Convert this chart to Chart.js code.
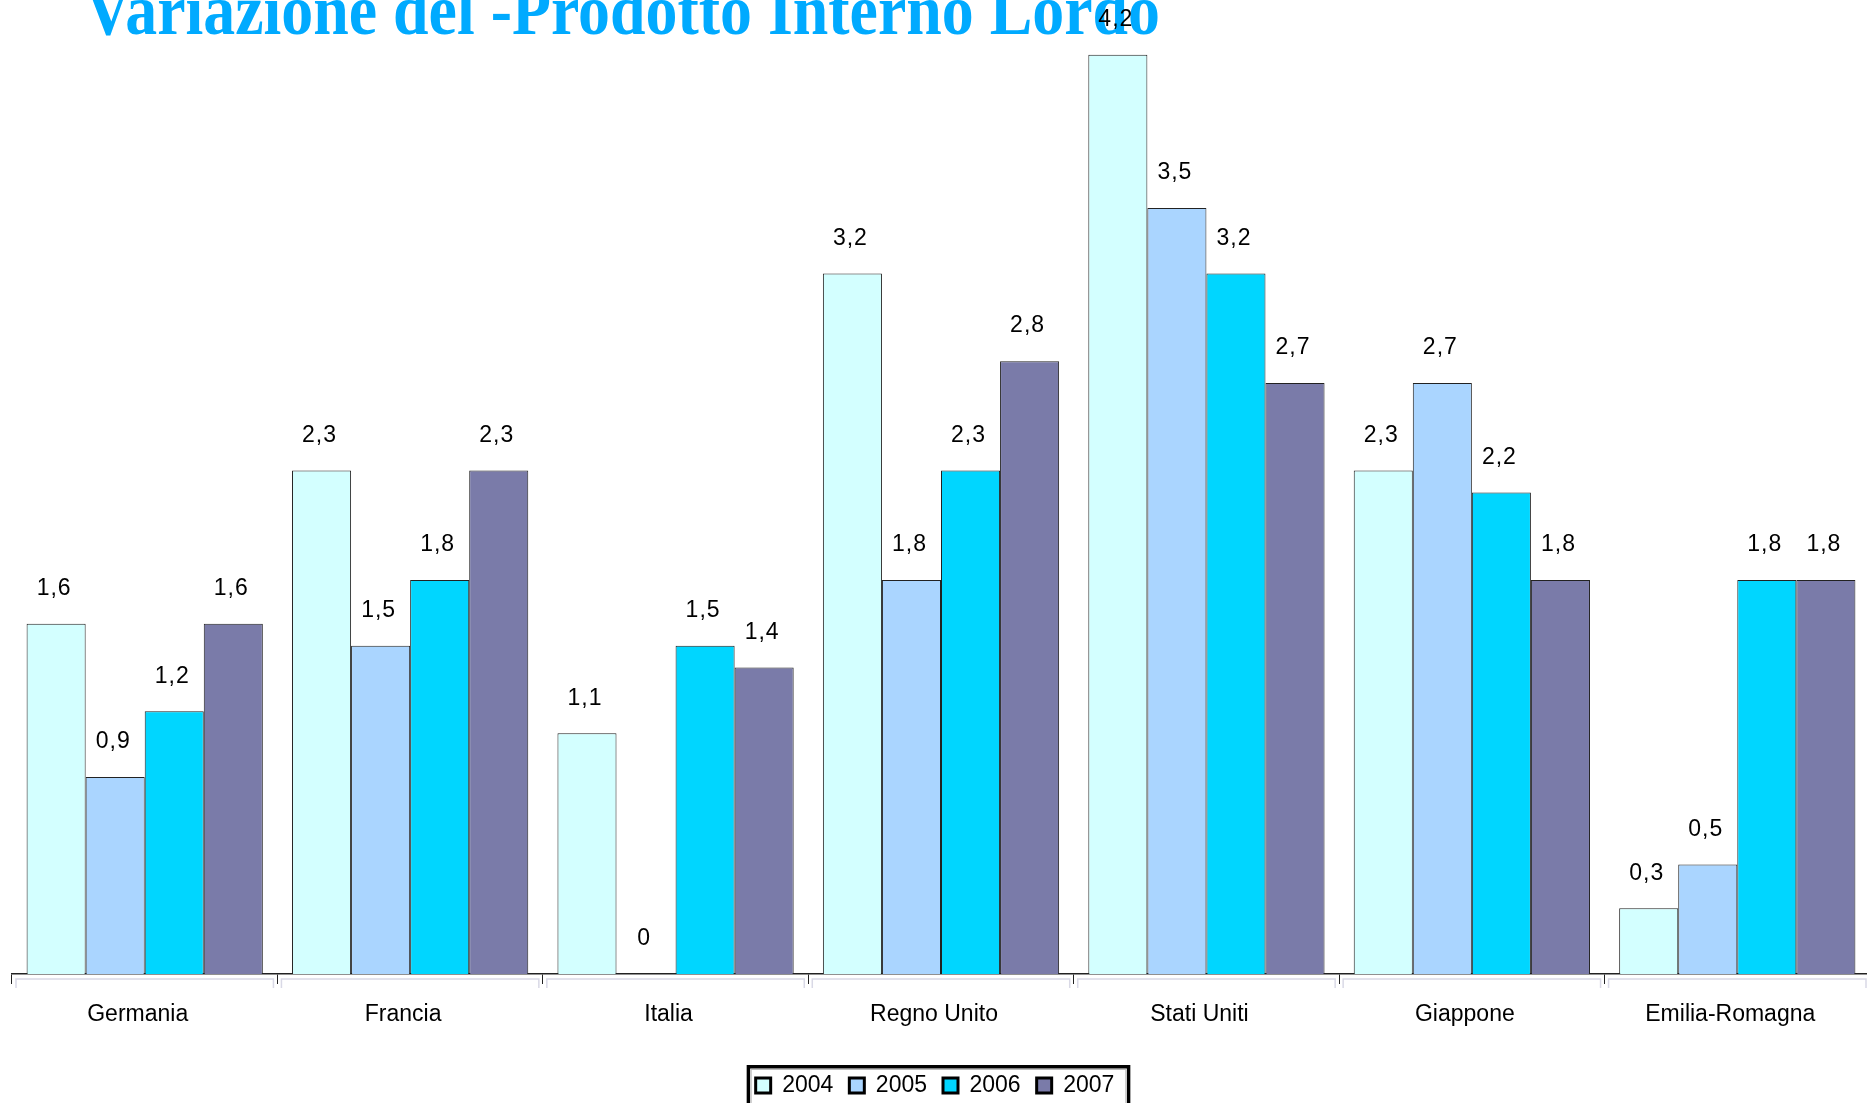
<!DOCTYPE html>
<html>
<head>
<meta charset="utf-8">
<script src="https://cdn.jsdelivr.net/npm/chart.js@4"></script>
<style>
  html, body { margin: 0; padding: 0; background: #fff; overflow: hidden; width: 1867px; height: 1103px; }
  #wrap { position: absolute; left: 0; top: 0; width: 1870px; height: 1107px; }
  #title {
    position: absolute; left: 85px; top: -26px; margin: 0;
    font: bold 72px "Liberation Serif", "Times New Roman", serif;
    line-height: 72px; color: #00AAFF; white-space: nowrap;
    transform-origin: 0 0; transform: scale(0.887, 1); z-index: 0;
  }
  canvas { position: absolute; left: 0; top: 0; z-index: 1; }
</style>
</head>
<body>
<div id="wrap">
  <div id="title">Variazione del -Prodotto Interno Lordo</div>
  <canvas id="c" width="1870" height="1107"></canvas>
</div>
<script>
// ---- data ----
const categories = ["Germania", "Francia", "Italia", "Regno Unito", "Stati Uniti", "Giappone", "Emilia-Romagna"];
const seriesNames = ["2004", "2005", "2006", "2007"];
const values2004 = [1.6, 2.3, 1.1, 3.2, 4.2, 2.3, 0.3];
const values2005 = [0.9, 1.5, 0, 1.8, 3.5, 2.7, 0.5];
const values2006 = [1.2, 1.8, 1.5, 2.3, 3.2, 2.2, 1.8];
const values2007 = [1.6, 2.3, 1.4, 2.8, 2.7, 1.8, 1.8];
const seriesColors = ["#D3FFFF", "#AAD5FF", "#00D6FF", "#7A7BA9"];

const FONT = '"Liberation Sans", Arial, sans-serif';
const fmt = v => String(v).replace('.', ',');

const valueLabels = {
  id: 'valueLabels',
  afterDatasetsDraw(chart) {
    const ctx = chart.ctx;
    ctx.save();
    ctx.font = '23px ' + FONT;
    if ('letterSpacing' in ctx) ctx.letterSpacing = '1px';
    ctx.fillStyle = '#000';
    ctx.textAlign = 'center';
    ctx.textBaseline = 'middle';
    chart.data.datasets.forEach((ds, i) => {
      chart.getDatasetMeta(i).data.forEach((bar, j) => {
        ctx.fillText(fmt(ds.data[j]), bar.x - 2, bar.y - 35);
      });
    });
    ctx.restore();
  }
};

const axisBrackets = {
  id: 'axisBrackets',
  afterDraw(chart) {
    const ctx = chart.ctx, xs = chart.scales.x, a = chart.chartArea;
    const n = chart.data.labels.length;
    const w = (a.right - a.left) / n;
    ctx.save();
    ctx.strokeStyle = '#D9D9E6';
    ctx.lineWidth = 1.5;
    for (let i = 0; i < n; i++) {
      const c = xs.getPixelForValue(i);
      const l = c - w / 2 + 4, r = c + w / 2 - 4, y = a.bottom + 5;
      ctx.beginPath();
      ctx.moveTo(l, y + 9); ctx.lineTo(l, y); ctx.lineTo(r, y); ctx.lineTo(r, y + 9);
      ctx.stroke();
    }
    ctx.restore();
  }
};

const legendBorder = {
  id: 'legendBorder',
  afterDraw(chart) {
    const hb = chart.legend.legendHitBoxes;
    if (!hb || !hb.length) return;
    const last = hb[hb.length - 1];
    const l = hb[0].left - 9, r = last.left + last.width + 16, t = hb[0].top - 9;
    const ctx = chart.ctx;
    ctx.save();
    ctx.strokeStyle = '#000';
    ctx.lineWidth = 3.5;
    ctx.strokeRect(l + 1.75, t + 1.75, r - l - 3.5, 80);
    ctx.strokeStyle = '#BBBBBB';
    ctx.lineWidth = 1;
    ctx.strokeRect(l + 4.5, t + 4.5, r - l - 9, 80);
    ctx.restore();
  }
};

const datasets = [values2004, values2005, values2006, values2007].map((vals, i) => ({
  label: seriesNames[i],
  data: vals,
  backgroundColor: seriesColors[i],
  borderColor: '#222',
  borderWidth: 1,
  borderSkipped: 'bottom',
  categoryPercentage: 0.89,
  barPercentage: 1.0
}));

new Chart(document.getElementById('c'), {
  type: 'bar',
  data: { labels: categories, datasets },
  options: {
    responsive: false,
    animation: false,
    devicePixelRatio: 1,
    layout: { padding: { left: 0, right: 0, top: 0, bottom: 0 } },
    plugins: {
      title: { display: false },
      tooltip: { enabled: false },
      legend: {
        display: true,
        position: 'bottom',
        labels: {
          font: { family: FONT, size: 23 },
          color: '#000',
          boxWidth: 15,
          boxHeight: 15,
          padding: 16,
          generateLabels(chart) {
            return chart.data.datasets.map((ds, i) => ({
              text: ds.label,
              fillStyle: ds.backgroundColor,
              strokeStyle: '#000',
              lineWidth: 3,
              datasetIndex: i,
              hidden: false,
              fontColor: '#000'
            }));
          }
        }
      }
    },
    scales: {
      x: {
        offset: true,
        grid: { display: true, drawOnChartArea: false, drawTicks: true, tickLength: 10, color: '#222', lineWidth: 1, offset: true },
        border: { display: true, color: '#222', width: 1.5 },
        ticks: { font: { family: FONT, size: 23 }, color: '#000', padding: 17, labelOffset: -7, maxRotation: 0, autoSkip: false },
        afterFit(scale) { scale.height = 84; }
      },
      y: {
        display: true,
        min: 0,
        max: 4.45,
        grid: { display: false, drawTicks: false },
        border: { display: false },
        ticks: { display: false },
        afterFit(scale) { scale.width = 12; }
      }
    }
  },
  plugins: [valueLabels, axisBrackets, legendBorder]
});
</script>
</body>
</html>
